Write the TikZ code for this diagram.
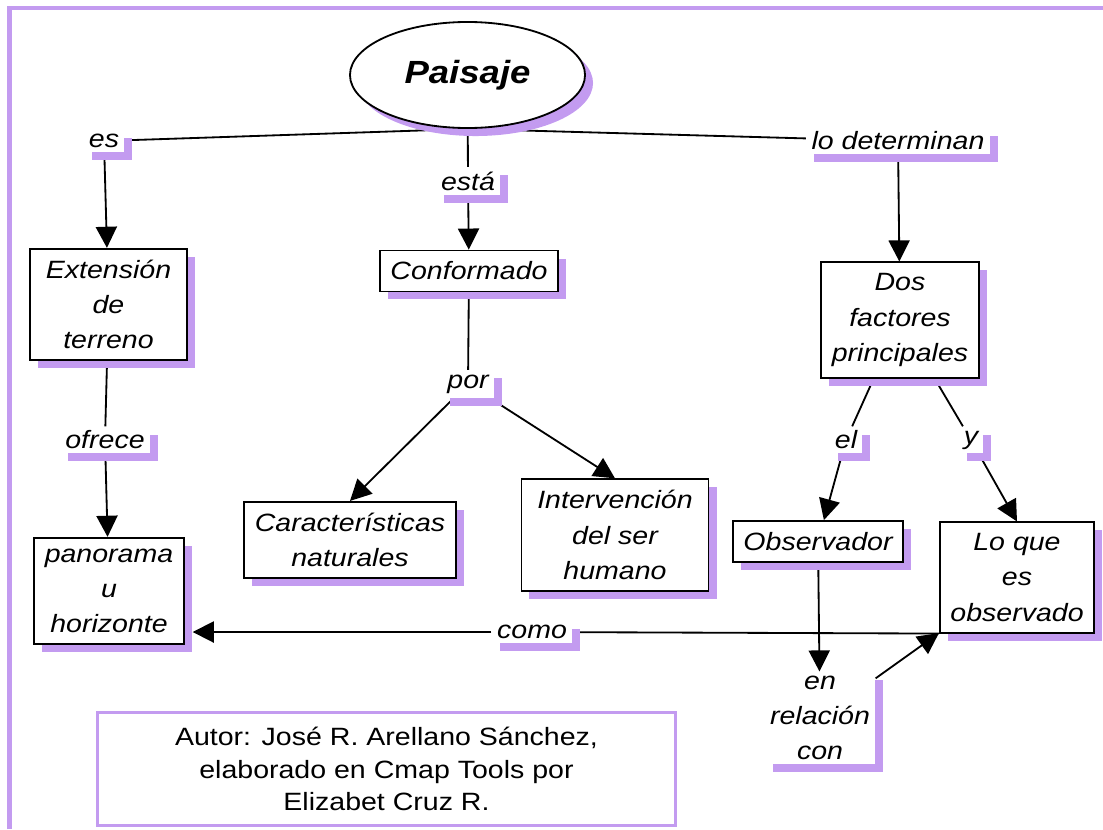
\documentclass[tikz,border=0pt]{standalone}
\usepackage{fontspec}
\setmainfont[FakeStretch=1.14]{Liberation Sans}
\usepackage{tikz}
\usetikzlibrary{arrows.meta,positioning,shapes,shadows,calc}
\usepackage{xcolor}
\definecolor{lila}{RGB}{195,155,240}
\pgfdeclarelayer{back}
\pgfsetlayers{back,main}

\begin{document}
\begin{tikzpicture}[x=0.025cm,y=-0.025cm,
  sombra/.style={drop shadow={shadow xshift=0.2cm,shadow yshift=-0.2cm,fill=lila,opacity=1}},
  concept/.style={draw,line width=1.3pt,fill=white,align=center,inner xsep=7.5pt,inner ysep=8pt,
    font=\fontsize{17.8}{25}\selectfont\itshape,sombra},
  link/.style={fill=white,align=center,inner xsep=3.8pt,inner ysep=3pt,
    font=\fontsize{17.8}{25}\selectfont\itshape,sombra},
  conn/.style={line width=1.3pt},
  arr/.style={line width=1.3pt,-{Triangle[length=15pt,width=15pt]}}]
  \useasboundingbox (0,0) rectangle (1103,829);
  \draw[lila,line width=3pt] (9.5,829) -- (9.5,8) -- (1103,8);

  \node[draw,ellipse,line width=1.3pt,fill=white,minimum width=5.875cm,minimum height=2.65cm,
    font=\fontsize{22.8}{26}\selectfont\bfseries\itshape,sombra] (paisaje) at (467.5,75) {Paisaje};

  \node[link] (es) at (104,141) {es};
  \node[link] (esta) at (468,181) {está};
  \node[link] (lodet) at (898,141) {lo determinan};

  \node[concept,minimum width=3.925cm] (ext) at (108.5,304.5) {Extensión\\de\\terreno};
  \node[concept] (conf) at (469,271) {Conformado};
  \node[concept] (dosf) at (900,320) {Dos\\factores\\principales};

  \node[link] (ofrece) at (105,440) {ofrece};
  \node[link] (por) at (468,384) {por};
  \node[link] (el) at (846,440) {el};
  \node[link] (yy) at (971,440) {y};

  \node[concept] (pan) at (109,591) {panorama\\u\\horizonte};
  \node[concept] (carac) at (350,540) {Características\\naturales};
  \node[concept,minimum width=4.675cm] (interv) at (615,535) {Intervención\\del ser\\humano};
  \node[concept] (obs) at (818,541.5) {Observador};
  \node[concept] (loque) at (1017,577.5) {Lo que\\es\\observado};

  \node[link] (enrel) at (820,718) {en\\relación\\con};
  \node[link] (como) at (532,632) {como};

  \node[draw=lila,line width=2.2pt,align=center,minimum width=14.425cm,minimum height=2.825cm,
    font=\fontsize{17.8}{23}\selectfont] (autor) at (386.5,769)
    {Autor: José R. Arellano Sánchez,\\elaborado en Cmap Tools por\\Elizabet Cruz R.};

  \begin{pgfonlayer}{back}
    \draw[conn] (paisaje.south) -- (es);
    \draw[conn] (paisaje.south) -- (lodet);
    \draw[conn] (paisaje) -- (esta);
    \draw[arr] (es) -- (ext);
    \draw[arr] (esta) -- (conf);
    \draw[arr] (lodet) -- (dosf);
    \draw[conn] (ext) -- (ofrece);
    \draw[arr] (ofrece) -- (pan);
    \draw[conn] (conf) -- (por);
    \draw[arr] (por) -- (carac.north);
    \draw[arr] (por) -- (interv.north);
    \draw[conn] (dosf) -- (el);
    \draw[conn] (dosf) -- (yy);
    \draw[arr] (el) -- (obs);
    \draw[arr] (yy) -- (loque.north);
    \draw[arr] (obs) -- (enrel);
    \draw[arr] (enrel) -- (loque);
    \draw[conn] (loque.south west) -- (como);
    \draw[arr] (como) -- ($(pan.east |- como)+(8,0)$);
  \end{pgfonlayer}
\end{tikzpicture}
\end{document}
